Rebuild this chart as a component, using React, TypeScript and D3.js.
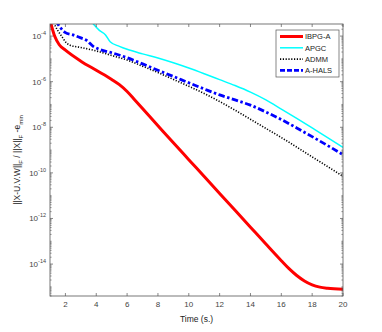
import React from "react";
import * as d3 from "d3";

const W = 382, H = 332;
const M = { left: 50, right: 343, top: 24, bottom: 296 };

// time (s), log10 of error
const ibpgT = [1.0, 1.3, 1.6, 2.0, 3.0, 4.0, 5.0, 5.5, 6.0, 6.5, 7.0, 8.0, 9.0, 10, 11, 12, 13, 14, 15, 16, 16.5, 17, 17.5, 18, 18.5, 19, 20];
const ibpgE = [-3.3, -4.0, -4.38, -4.62, -5.1, -5.5, -5.9, -6.13, -6.43, -6.8, -7.18, -7.93, -8.68, -9.42, -10.16, -10.9, -11.64, -12.38, -13.12, -13.85, -14.2, -14.5, -14.74, -14.91, -15.01, -15.06, -15.1];

const apgcT = [3.6, 4.2, 4.6, 4.9, 5.5, 6, 7, 8, 9, 10, 11, 12, 13, 14, 15, 16, 17, 18, 19, 20];
const apgcE = [-3.3, -3.75, -3.95, -4.25, -4.45, -4.58, -4.78, -4.96, -5.17, -5.4, -5.65, -5.91, -6.17, -6.46, -6.8, -7.2, -7.61, -8.03, -8.45, -8.88];

const admmT = [1.15, 1.5, 1.8, 2.0, 2.3, 3, 4, 5, 6, 7, 8, 9, 10, 11, 12, 13, 14, 15, 16, 17, 18, 19, 20];
const admmE = [-3.3, -3.75, -4.05, -4.25, -4.4, -4.5, -4.65, -4.85, -5.05, -5.32, -5.6, -5.9, -6.2, -6.52, -6.87, -7.25, -7.65, -8.05, -8.45, -8.87, -9.3, -9.72, -10.15];

const ahalsT = [1.35, 1.7, 2.0, 2.5, 3.0, 3.4, 3.8, 4.2, 5, 6, 7, 8, 9, 10, 11, 12, 13, 14, 15, 16, 17, 18, 19, 20];
const ahalsE = [-3.3, -3.65, -3.85, -3.95, -4.08, -4.2, -4.45, -4.58, -4.73, -4.95, -5.22, -5.5, -5.77, -6.05, -6.32, -6.58, -6.8, -7.03, -7.33, -7.66, -8.03, -8.41, -8.8, -9.2];

const legendNames = ["IBPG-A", "APGC", "ADMM", "A-HALS"];
const xTicks = [2, 4, 6, 8, 10, 12, 14, 16, 18, 20];
const yTickExps = [-4, -6, -8, -10, -12, -14];

const series = [
  { t: ibpgT, e: ibpgE, color: "#ff0000", width: 3, dash: "", legendDash: "" },
  { t: apgcT, e: apgcE, color: "#00ffff", width: 1.5, dash: "", legendDash: "" },
  { t: admmT, e: admmE, color: "#000000", width: 1.6, dash: "1.2,1.6", legendDash: "1.2,1.6" },
  { t: ahalsT, e: ahalsE, color: "#0000ff", width: 2.8, dash: "6.5,2.5,2.5,2.5", legendDash: "5,2" },
];

export default function App() {
  const x = d3.scaleLinear().domain([1, 20]).range([M.left, M.right]);
  const y = d3.scaleLinear().domain([-15.4, -3.47]).range([M.bottom, M.top]);
  const line = d3
    .line<[number, number]>()
    .x((d) => x(d[0]))
    .y((d) => y(d[1]))
    .curve(d3.curveMonotoneX);

  const axisColor = "#555";
  const textColor = "#444";
  const font = "Liberation Sans, Arial, Helvetica, sans-serif";

  const minor: number[] = [];
  for (let k = -16; k <= -3; k++) {
    for (let m = 1; m <= 9; m++) {
      const v = k + Math.log10(m);
      if (v > -15.4 && v < -3.47 && !(m === 1 && yTickExps.includes(k))) minor.push(v);
    }
  }

  const lx = 276, ly = 30, lw = 63, lh = 47;

  return (
    <svg width={W} height={H} style={{ display: "block", position: "absolute", left: 0, top: 0, background: "#fff" }}>
      <defs>
        <clipPath id="plotclip">
          <rect x={M.left} y={M.top} width={M.right - M.left} height={M.bottom - M.top} />
        </clipPath>
      </defs>
      <rect x={0} y={0} width={W} height={H} fill="#fff" />
      <g clipPath="url(#plotclip)">
        {series.map((s, i) => (
          <path
            key={i}
            d={line(s.t.map((t, j) => [t, s.e[j]] as [number, number])) || ""}
            fill="none"
            stroke={s.color}
            strokeWidth={s.width}
            strokeDasharray={s.dash}
            strokeLinejoin="round"
          />
        ))}
      </g>
      <rect x={M.left} y={M.top} width={M.right - M.left} height={M.bottom - M.top} fill="none" stroke={axisColor} strokeWidth={0.8} />
      {xTicks.map((t) => (
        <g key={"x" + t}>
          <line x1={x(t)} x2={x(t)} y1={M.bottom} y2={M.bottom - 3} stroke={axisColor} strokeWidth={0.7} />
          <line x1={x(t)} x2={x(t)} y1={M.top} y2={M.top + 3} stroke={axisColor} strokeWidth={0.7} />
          <text x={x(t)} y={M.bottom + 11} fontSize={8} fill={textColor} textAnchor="middle" fontFamily={font}>{t}</text>
        </g>
      ))}
      {yTickExps.map((k) => (
        <g key={"y" + k}>
          <line x1={M.left} x2={M.left + 3} y1={y(k)} y2={y(k)} stroke={axisColor} strokeWidth={0.7} />
          <line x1={M.right} x2={M.right - 3} y1={y(k)} y2={y(k)} stroke={axisColor} strokeWidth={0.7} />
          <text x={M.left - 4} y={y(k) + 3} fontSize={8} fill={textColor} textAnchor="end" fontFamily={font}>
            10<tspan dy={-4} fontSize={5.5}>{k}</tspan>
          </text>
        </g>
      ))}
      {minor.map((v, i) => (
        <g key={"m" + i}>
          <line x1={M.left} x2={M.left + 1.6} y1={y(v)} y2={y(v)} stroke={axisColor} strokeWidth={0.6} />
          <line x1={M.right} x2={M.right - 1.6} y1={y(v)} y2={y(v)} stroke={axisColor} strokeWidth={0.6} />
        </g>
      ))}
      <text x={(M.left + M.right) / 2} y={322} fontSize={8.5} fill="#222" textAnchor="middle" fontFamily={font}>Time (s.)</text>
      <text
        transform={`translate(20,${(M.top + M.bottom) / 2}) rotate(-90)`}
        fontSize={8.5}
        fill="#222"
        textAnchor="middle"
        fontFamily={font}
      >
        ||X-U.V.W||<tspan dy={2.5} fontSize={6}>F</tspan>
        <tspan dy={-2.5}> / ||X||</tspan>
        <tspan dy={2.5} fontSize={6}>F</tspan>
        <tspan dy={-2.5}> -e</tspan>
        <tspan dy={2.5} fontSize={6}>min</tspan>
      </text>
      <rect x={lx} y={ly} width={lw} height={lh} fill="#fff" stroke={axisColor} strokeWidth={0.7} />
      {legendNames.map((n, i) => {
        const yy = ly + 6.5 + i * 11.3;
        const s = series[i];
        return (
          <g key={n}>
            <line x1={lx + 4} x2={lx + 27} y1={yy} y2={yy} stroke={s.color} strokeWidth={s.width} strokeDasharray={s.legendDash} />
            <text x={lx + 29} y={yy + 2.7} fontSize={7.5} fill="#222" fontFamily={font}>{n}</text>
          </g>
        );
      })}
    </svg>
  );
}
